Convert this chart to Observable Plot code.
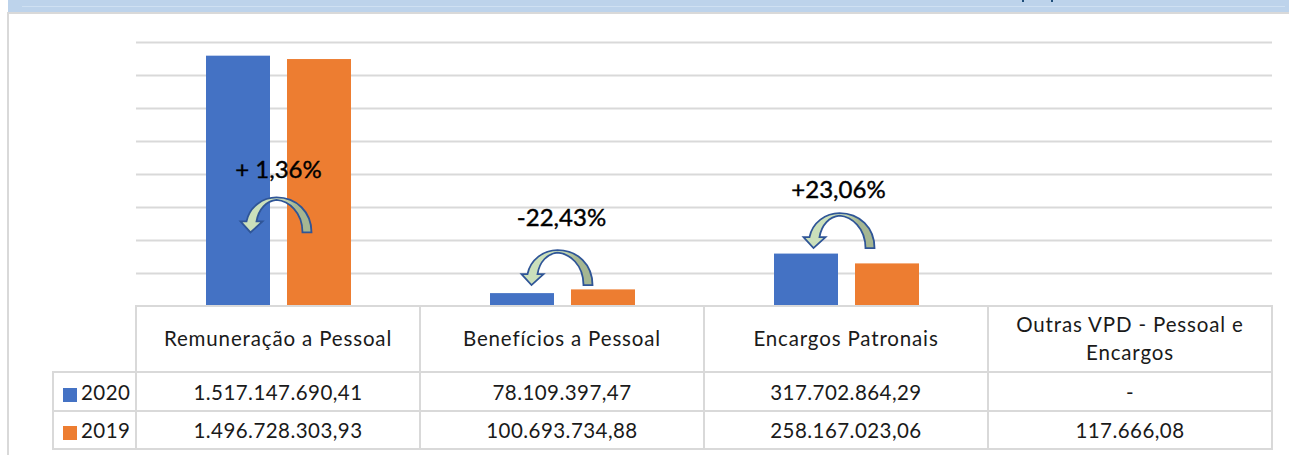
<!DOCTYPE html>
<html lang="pt-BR">
<head>
<meta charset="utf-8">
<script src="https://cdn.jsdelivr.net/npm/d3@7"></script>
<script src="https://cdn.jsdelivr.net/npm/@observablehq/plot@0.6"></script>
<style>
  html, body { margin: 0; padding: 0; background: #fff; width: 1289px; height: 455px; overflow: hidden; font-family: Lato, "Noto Sans", sans-serif; color: #1a1a1a; }
  #band { position: absolute; left: 8px; right: 0; top: 0; height: 12px; background: #bdd3eb; border-bottom: 2px solid #d9d9d9; box-sizing: content-box; }
  #band i { position: absolute; left: 14px; right: 4px; top: 6px; height: 1px; background: #cfe0f2; }
  #band b { position: absolute; top: 0; width: 2px; height: 2px; background: #1f4e79; }
  #frame { position: absolute; left: 7px; top: 12px; bottom: 0; width: 2px; background: #d9d9d9; }
  #chart { position: absolute; left: 0; top: 0; }
  #chart svg { display: block; background: transparent; }
  table { position: absolute; left: 52px; top: 305px; width: 1219px; table-layout: fixed; border-collapse: collapse; font: 20.5px Lato, "Noto Sans", sans-serif; letter-spacing: 0.45px; color: #1a1a1a; }
  td { border: 2px solid #d9d9d9; text-align: center; padding: 0; background: #fff; box-sizing: border-box; }
  td.blank { border-left: none; border-top: none; background: transparent; }
  tr.head td { height: 66px; line-height: 28px; letter-spacing: 0.85px; padding: 0 0 2px 0; }
  tr.row1 td { height: 39px; line-height: 28px; padding-bottom: 0; }
  tr.row2 td { height: 38px; line-height: 28px; padding-bottom: 1px; }
  td.key { text-align: left; white-space: nowrap; }
  tr.row1 td.key, tr.row2 td.key { padding-left: 9px; }
  td.key span { display: inline-block; width: 14px; height: 14px; margin-right: 4px; vertical-align: -2px; }
</style>
</head>
<body>
<div id="band"><i></i><b style="left:1014px"></b><b style="left:1043px"></b></div>
<div id="frame"></div>
<svg width="0" height="0" style="position:absolute">
  <defs>
    <linearGradient id="arrowFill" x1="0" x2="1" y1="0" y2="0">
      <stop offset="0.55" stop-color="#cbe0bb"/>
      <stop offset="0.78" stop-color="#a5b692"/>
    </linearGradient>
  </defs>
</svg>
<div id="chart"></div>
<script>
const categories = ["Remuneração a Pessoal", "Benefícios a Pessoal", "Encargos Patronais", "Outras VPD - Pessoal e Encargos"];
const years = ["2020", "2019"];
const values2020 = [1517147690.41, 78109397.47, 317702864.29, null];
const values2019 = [1496728303.93, 100693734.88, 258167023.06, 117666.08];
const colors = ["#4472c4", "#ed7d31"];
const gridTicks = [0, 200000000, 400000000, 600000000, 800000000, 1000000000, 1200000000, 1400000000, 1600000000];
const changeLabels = ["+ 1,36%", "-22,43%", "+23,06%"];
const labelLevels = [824000000, 533000000, 703000000];
const arrowLevels = [555000000, 236000000, 460000000];
const labelShift = [0, -1, -8];
const arrowShift = [-2, -5, -7];

const bars = [];
categories.forEach((category, i) => {
  bars.push({category, year: years[0], value: values2020[i]});
  bars.push({category, year: years[1], value: values2019[i]});
});

const curvedArrow = {
  draw(c) {
    c.moveTo(35, 17.5);
    c.lineTo(26, 17.5);
    c.bezierCurveTo(26, -3, 12, -14, 0, -15);
    c.bezierCurveTo(-10, -14, -18, -6, -20, 6.5);
    c.lineTo(-14, 6.5);
    c.lineTo(-26, 17.5);
    c.lineTo(-36, 6.5);
    c.lineTo(-30, 6.5);
    c.bezierCurveTo(-27, -8, -14, -17.5, 0, -17.5);
    c.bezierCurveTo(20, -17.5, 35, -3, 35, 17.5);
    c.closePath();
  }
};

const annotationMarks = changeLabels.flatMap((label, i) => {
  const row = [{category: categories[i], label, labelLevel: labelLevels[i], arrowLevel: arrowLevels[i]}];
  return [
    Plot.dot(row, {fx: "category", y: "arrowLevel", dx: arrowShift[i], symbol: curvedArrow, r: 10,
      fill: "url(#arrowFill)", stroke: "#2f5597", strokeWidth: 1.8}),
    Plot.text(row, {fx: "category", y: "labelLevel", dx: labelShift[i], text: "label",
      fontSize: 24, fontFamily: "Lato, 'Noto Sans', sans-serif", fill: "#000", stroke: "#000", strokeWidth: 0.4})
  ];
});

const chart = Plot.plot({
  width: 1289,
  height: 307,
  marginLeft: 136,
  marginRight: 17,
  marginTop: 42,
  marginBottom: 1,
  fx: {domain: categories, padding: 0, axis: null, label: null},
  x: {type: "band", domain: years, range: [206, 351], paddingInner: 0.21, paddingOuter: 0, axis: null},
  y: {domain: [0, 1600000000], axis: null},
  color: {domain: years, range: colors},
  marks: [
    Plot.ruleY(gridTicks, {stroke: "#d9d9d9", strokeWidth: 2}),
    Plot.barY(bars.filter(d => d.value != null), {fx: "category", x: "year", y: "value", fill: "year"}),
    ...annotationMarks
  ]
});
document.getElementById("chart").append(chart);

const fmt = v => v == null ? "-" : new Intl.NumberFormat("pt-BR", {minimumFractionDigits: 2, maximumFractionDigits: 2}).format(v);
const table = d3.select("body").append("table");
const cg = table.append("colgroup");
cg.append("col").style("width", "83px");
categories.forEach(() => cg.append("col").style("width", "284px"));
const head = table.append("tr").attr("class", "head");
head.append("td").attr("class", "blank");
categories.forEach(c => head.append("td").style("padding-left", c.length > 25 ? "20px" : "0").style("padding-right", c.length > 25 ? "20px" : "0").text(c));
[values2020, values2019].forEach((vals, r) => {
  const tr = table.append("tr").attr("class", "row" + (r + 1));
  const key = tr.append("td").attr("class", "key");
  key.append("span").style("background", colors[r]);
  key.append("text").text(years[r]);
  vals.forEach(v => tr.append("td").text(fmt(v)));
});
</script>
</body>
</html>
